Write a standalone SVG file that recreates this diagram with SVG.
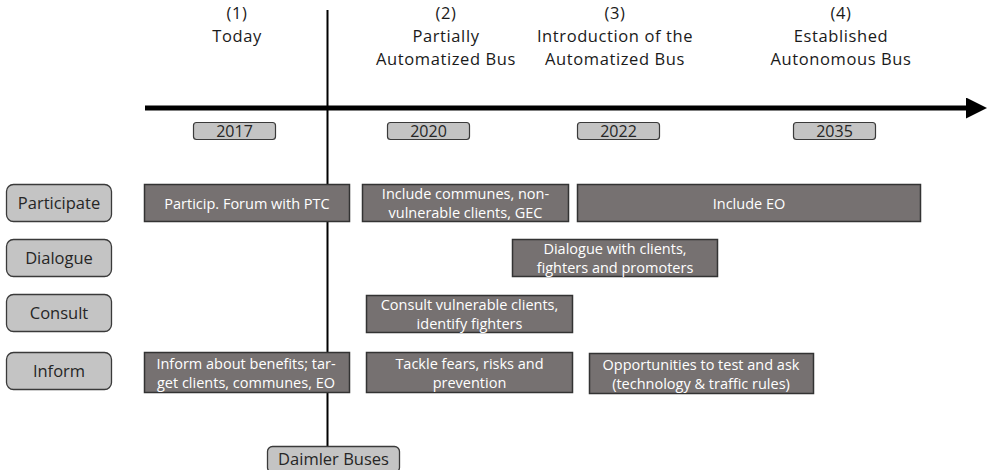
<svg xmlns="http://www.w3.org/2000/svg" width="987" height="470" viewBox="0 0 987 470">
  <style>
    .hdr { font-family: "Open Sans", "Liberation Sans", sans-serif; font-size: 16.5px; letter-spacing: 0.6px; fill: #1a1a1a; text-anchor: middle; }
    .year rect { fill: #c4c4c4; stroke: #3a3a3a; stroke-width: 1.2; }
    .year text { font-family: "Open Sans", "Liberation Sans", sans-serif; font-size: 16px; fill: #262626; text-anchor: middle; }
    .level rect { fill: #c4c4c4; stroke: #3a3a3a; stroke-width: 1.3; }
    .level text { font-family: "Open Sans", "Liberation Sans", sans-serif; font-size: 16.5px; fill: #262626; text-anchor: middle; }
    .act rect { fill: #767171; stroke: #333333; stroke-width: 1.5; }
    .act text { font-family: "Open Sans", "Liberation Sans", sans-serif; font-size: 14.5px; fill: #ffffff; text-anchor: middle; }
  </style>
  <defs>
    <marker id="head" viewBox="0 0 10 10" refX="0" refY="5" markerWidth="4.4" markerHeight="4.2" markerUnits="strokeWidth" orient="auto">
      <path d="M0,0 L10,5 L0,10 Z" fill="#000"/>
    </marker>
  </defs>

  <!-- phase headings -->
  <g id="headings">
    <text class="hdr" x="237" y="19">(1)</text>
    <text class="hdr" x="237" y="42">Today</text>
    <text class="hdr" x="446" y="19">(2)</text>
    <text class="hdr" x="446" y="42">Partially</text>
    <text class="hdr" x="446" y="65">Automatized Bus</text>
    <text class="hdr" x="615" y="19">(3)</text>
    <text class="hdr" x="615" y="42">Introduction of the</text>
    <text class="hdr" x="615" y="65">Automatized Bus</text>
    <text class="hdr" x="841" y="19">(4)</text>
    <text class="hdr" x="841" y="42">Established</text>
    <text class="hdr" x="841" y="65">Autonomous Bus</text>
  </g>

  <!-- timeline axis and the "today" divider -->
  <g id="connectors">
    <line x1="145" y1="108" x2="966" y2="108" stroke="#000" stroke-width="5" marker-end="url(#head)"/>
    <line x1="327.5" y1="10" x2="327.5" y2="446" stroke="#000" stroke-width="2"/>
  </g>

  <!-- year labels -->
  <g id="y2017" class="year"><rect x="193.5" y="122.5" width="82" height="17" rx="3"/><text x="234.5" y="137">2017</text></g>
  <g id="y2020" class="year"><rect x="387.5" y="122.5" width="82" height="17" rx="3"/><text x="428.5" y="137">2020</text></g>
  <g id="y2022" class="year"><rect x="577.5" y="122.5" width="82" height="17" rx="3"/><text x="618.5" y="137">2022</text></g>
  <g id="y2035" class="year"><rect x="793.5" y="122.5" width="82" height="17" rx="3"/><text x="834.5" y="137">2035</text></g>

  <!-- participation levels -->
  <g id="participate" class="level"><rect x="6.5" y="184.5" width="105" height="37" rx="7"/><text x="59" y="209">Participate</text></g>
  <g id="dialogue" class="level"><rect x="6.5" y="239.5" width="105" height="37" rx="7"/><text x="59" y="264">Dialogue</text></g>
  <g id="consult" class="level"><rect x="6.5" y="294.5" width="105" height="37" rx="7"/><text x="59" y="319">Consult</text></g>
  <g id="inform" class="level"><rect x="6.5" y="352.5" width="105" height="37" rx="7"/><text x="59" y="377">Inform</text></g>

  <!-- activities -->
  <g id="forum" class="act"><rect x="144.5" y="184.5" width="205" height="37"/><text x="247" y="208.5">Particip. Forum with PTC</text></g>
  <g id="communes" class="act"><rect x="362.5" y="184.5" width="206" height="37"/><text x="465.5" y="199">Include communes, non-</text><text x="465.5" y="218">vulnerable clients, GEC</text></g>
  <g id="eo" class="act"><rect x="577.5" y="184.5" width="343" height="37"/><text x="749" y="208.5">Include EO</text></g>
  <g id="dialogue-clients" class="act"><rect x="512.5" y="239.5" width="205" height="37"/><text x="615" y="253.5">Dialogue with clients,</text><text x="615" y="272.5">fighters and promoters</text></g>
  <g id="consult-clients" class="act"><rect x="366.5" y="295.5" width="206" height="37"/><text x="469.5" y="309.5">Consult vulnerable clients,</text><text x="469.5" y="328.5">identify fighters</text></g>
  <g id="benefits" class="act"><rect x="144.5" y="352.5" width="205" height="40"/><text x="246" y="368.5">Inform about benefits; tar-</text><text x="246" y="387.5">get clients, communes, EO</text></g>
  <g id="fears" class="act"><rect x="366.5" y="352.5" width="206" height="40"/><text x="469.5" y="368.5">Tackle fears, risks and</text><text x="469.5" y="387.5">prevention</text></g>
  <g id="opportunities" class="act"><rect x="589.5" y="353.5" width="224" height="40"/><text x="701" y="369.5">Opportunities to test and ask</text><text x="701" y="388.5">(technology &amp; traffic rules)</text></g>

  <!-- company label -->
  <g id="daimler" class="level"><rect x="267.5" y="446.5" width="132" height="26" rx="5"/><text x="333.5" y="465">Daimler Buses</text></g>
</svg>
